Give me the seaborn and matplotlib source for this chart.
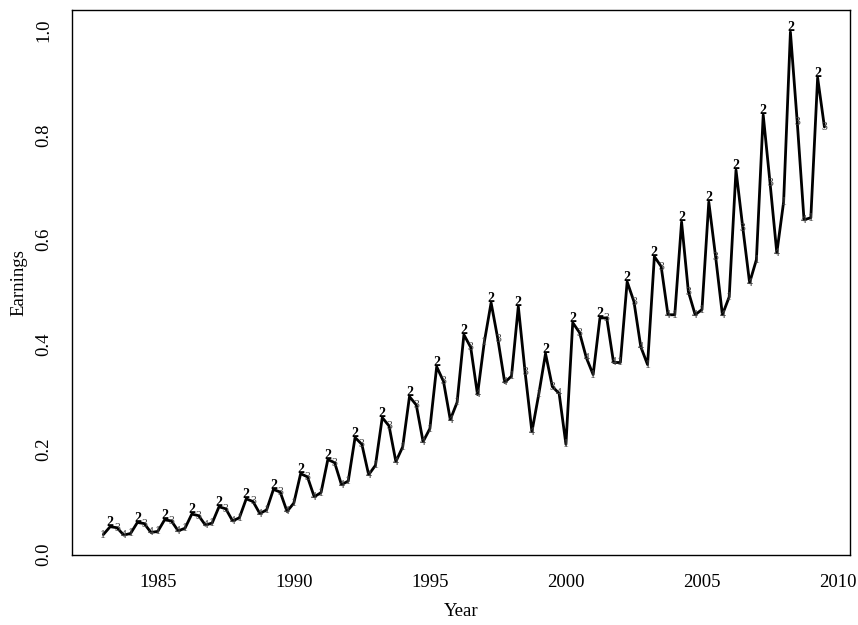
import numpy as np
import pandas as pd
import matplotlib
matplotlib.use("Agg")
import matplotlib.pyplot as plt
import seaborn as sns

# quarterly earnings per share, 1983 Q1 .. 2009 Q3
start_year = 1983
earnings = [
    0.038, 0.053, 0.051, 0.037,   # 1983
    0.040, 0.061, 0.059, 0.042,   # 1984
    0.044, 0.066, 0.064, 0.045,   # 1985
    0.050, 0.077, 0.074, 0.056,   # 1986
    0.060, 0.091, 0.087, 0.064,   # 1987
    0.070, 0.106, 0.101, 0.078,   # 1988
    0.085, 0.124, 0.119, 0.082,   # 1989
    0.098, 0.154, 0.148, 0.110,   # 1990
    0.118, 0.181, 0.175, 0.133,   # 1991
    0.140, 0.223, 0.210, 0.152,   # 1992
    0.170, 0.261, 0.245, 0.177,   # 1993
    0.205, 0.301, 0.285, 0.215,   # 1994
    0.240, 0.358, 0.330, 0.257,   # 1995
    0.290, 0.419, 0.395, 0.305,   # 1996
    0.405, 0.480, 0.410, 0.328,   # 1997
    0.340, 0.473, 0.347, 0.234,   # 1998
    0.305, 0.383, 0.320, 0.307,   # 1999
    0.210, 0.442, 0.423, 0.375,   # 2000
    0.343, 0.451, 0.451, 0.366,   # 2001
    0.366, 0.520, 0.482, 0.396,   # 2002
    0.362, 0.568, 0.549, 0.457,   # 2003
    0.457, 0.634, 0.501, 0.457,   # 2004
    0.467, 0.672, 0.568, 0.457,   # 2005
    0.491, 0.733, 0.623, 0.518,   # 2006
    0.562, 0.838, 0.709, 0.575,   # 2007
    0.672, 0.996, 0.825, 0.638,   # 2008
    0.642, 0.909, 0.815,          # 2009
]
quarter_labels = ["1", "2", "3", "4"]
x_ticks = [1985, 1990, 1995, 2000, 2005, 2010]
y_ticks = [0.0, 0.2, 0.4, 0.6, 0.8, 1.0]

df = pd.DataFrame({"earnings": earnings})
df["time"] = start_year + np.arange(len(df)) * 0.25
df["quarter"] = [quarter_labels[i % 4] for i in range(len(df))]

sns.set_style("white")
plt.rcParams["font.family"] = ["Liberation Serif", "DejaVu Serif"]
for k in ["text.color", "axes.labelcolor", "xtick.color", "ytick.color"]:
    plt.rcParams[k] = "black"

fig = plt.figure(figsize=(8.58, 6.25), dpi=100)
ax = fig.add_axes([0.084, 0.112, 0.907, 0.872])

sns.lineplot(data=df, x="time", y="earnings", color="black", linewidth=2.0, ax=ax)

# quarter numbers at each observation
for _, r in df.iterrows():
    big = r["quarter"] == "2"
    ax.text(r["time"], r["earnings"] + (0.008 if big else 0.0), r["quarter"],
            ha="center", va="center", fontsize=10 if big else 8.5,
            color="black" if big else "#444444",
            fontweight="bold" if big else "normal")

ax.set_xlim(1981.85, 2010.45)
ax.set_ylim(-0.001, 1.038)
ax.set_xticks(x_ticks)
ax.set_yticks(y_ticks)
ax.set_xticklabels([str(t) for t in x_ticks], fontsize=13.5)
ax.set_yticklabels([f"{t:.1f}" for t in y_ticks], fontsize=13.5, rotation=90, va="center")
ax.tick_params(direction="out", length=7, width=1, color="black", pad=7)
ax.set_xlabel("Year", fontsize=13.5, labelpad=8)
ax.set_ylabel("Earnings", fontsize=13.5, labelpad=6)

for s in ax.spines.values():
    s.set_color("black")
    s.set_linewidth(1)

fig.savefig("out.png", dpi=100)
